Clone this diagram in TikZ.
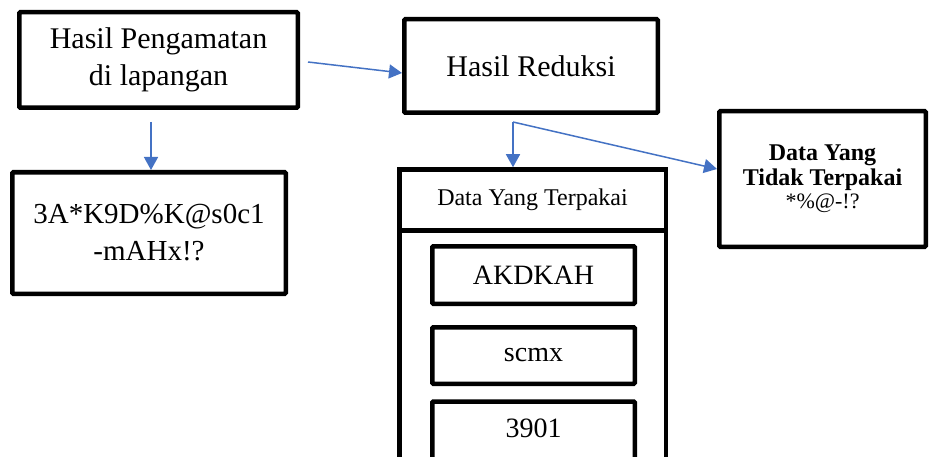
\documentclass[tikz,border=0pt]{standalone}
\usepackage{fontspec}
\setmainfont{Liberation Serif}
\usetikzlibrary{arrows.meta}
\definecolor{arrowblue}{HTML}{4472C4}
\begin{document}
\begin{tikzpicture}[x=1pt,y=-1pt,
  box/.style={draw=black, line width=4.5pt, rounded corners=1pt, fill=white, align=center, inner sep=0pt},
  boxline/.style={draw=black, line width=4.5pt},
  arr/.style={draw=arrowblue, line width=1.5pt, -{Triangle[length=13pt,width=14pt]}},
  big/.style={font=\fontsize{30}{37}\selectfont},
  mid/.style={font=\fontsize{28}{34}\selectfont},
  small/.style={font=\fontsize{24}{30}\selectfont},
]
\useasboundingbox (0,0) rectangle (933,457);
\clip (0,0) rectangle (933,457);
\fill[white] (0,0) rectangle (933,457);

\node[box, big, minimum width=278.5, minimum height=95.5] (B1) at (158.5,60) {Hasil Pengamatan\\di lapangan};
\node[box, big, minimum width=253.5, minimum height=93.5] (B2) at (531,66) {Hasil Reduksi};
\node[box, font=\fontsize{29}{37}\selectfont, minimum width=273.5, minimum height=121.5] (B3) at (149,233) {3A*K9D\%K@s0c1\\-mAHx!?};
\node[box, minimum width=206.5, minimum height=135.5, font=\fontsize{22}{25}\selectfont] (B5) at (822.5,179)
  {\fontsize{24}{28}\selectfont\bfseries Data Yang\\\fontsize{24}{28}\selectfont\bfseries Tidak Terpakai\\[-2pt]*\%@-!?};

\coordinate (bl) at (399.25,215);
\coordinate (br) at (665.75,215);
\draw[boxline] (bl) -- ++(0,300);
\draw[boxline] (br) -- ++(0,300);
\node[box, small, rounded corners=0pt, minimum width=266.5, minimum height=61] (B4) at (532.5,200) {Data Yang Terpakai};

\node[box, mid, minimum width=202.5, minimum height=57.5] (I1) at (533.5,275) {AKDKAH};
\node[box, mid, minimum width=202.5, minimum height=56.5] (I2) at (533.5,355.5) {scmx};
\node[box, minimum width=202.5, minimum height=80, anchor=north] (I3) at (533.5,399.25) {};
\node[mid, inner sep=0pt] (I3t) at (533.5,428) {3901};

\coordinate (s1) at (308,62);
\coordinate (s2) at (151,122);
\coordinate (r) at (513,122);
\draw[arr] (s1) -- ([yshift=-7pt]B2.west);
\draw[arr] (s2) -- (s2 |- B3.north);
\draw[arr] (r) -- (r |- B4.north);
\draw[arr] (r) -- ([yshift=10pt]B5.west);
\end{tikzpicture}
\end{document}
